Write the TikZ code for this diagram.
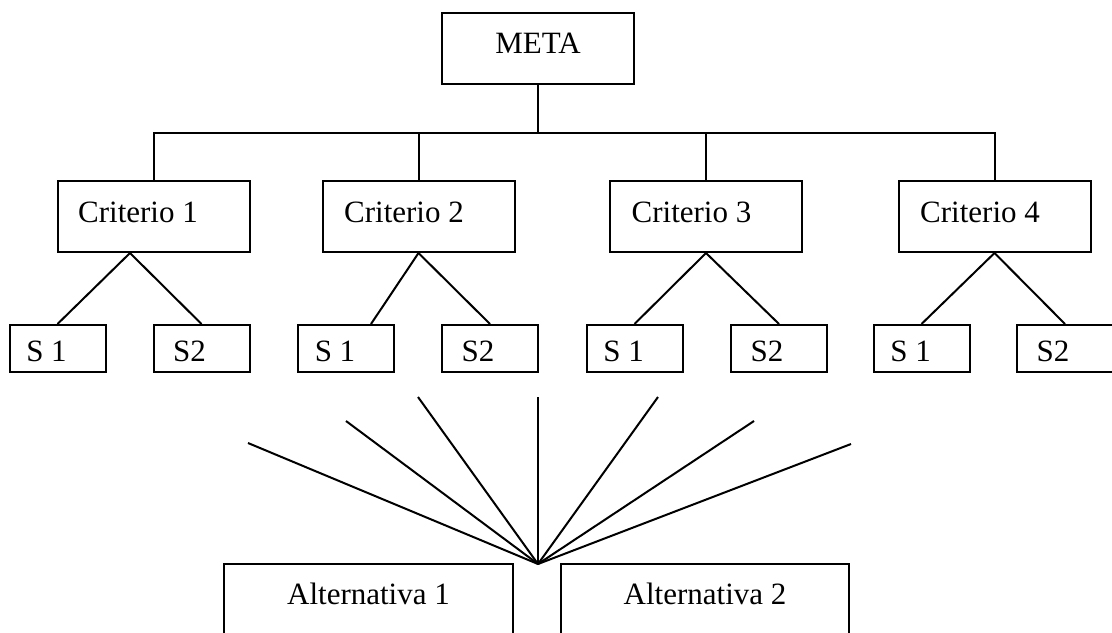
\documentclass[tikz,border=0pt]{standalone}
\usepackage{fontspec}
\setmainfont{Liberation Serif}
\usepackage{tikz}
\usetikzlibrary{positioning}
\tikzset{caja/.style={draw,line width=1pt,inner sep=0pt,minimum width=96pt,minimum height=35.5pt},
  hoja/.style={caja,minimum width=48pt,minimum height=23.5pt},
  alt/.style={caja,minimum width=144.5pt,minimum height=50pt},
  texto/.style={inner sep=0pt,font=\fontsize{15.5}{18}\selectfont},
  linea/.style={line width=1pt,draw=black}}

\begin{document}
\begin{tikzpicture}[x=0.5pt,y=-0.5pt]
\useasboundingbox (0,0) rectangle (1112,632);
% meta y criterios
\node[caja] (meta) at (538,48.5) {};
\node[texto] (metat) at (538,43) {META};
\node[caja] (c1) at (154,216.5) {};
\node[caja] (c2) at (418.5,216.5) {};
\node[caja] (c3) at (706,216.5) {};
\node[caja] (c4) at (994.5,216.5) {};
\node[texto] (c1t) at (138,212.5) {Criterio 1};
\node[texto] (c2t) at (404,212.5) {Criterio 2};
\node[texto] (c3t) at (691.5,212.5) {Criterio 3};
\node[texto] (c4t) at (980,212.5) {Criterio 4};
% subcriterios
\node[hoja] (s11) at (57.5,348.5) {};
\node[hoja] (s12) at (201.5,348.5) {};
\node[hoja] (s21) at (346,348.5) {};
\node[hoja] (s22) at (490,348.5) {};
\node[hoja] (s31) at (634.5,348.5) {};
\node[hoja] (s32) at (779,348.5) {};
\node[hoja] (s41) at (921.5,348.5) {};
\node[hoja] (s42) at (1065,348.5) {};
\foreach \s/\x in {s11/46.5,s21/335,s31/623.5,s41/910.5}
  \node[texto] (\s t) at (\x,351.5) {S 1};
\foreach \s/\x in {s12/189.5,s22/478,s32/767,s42/1053}
  \node[texto] (\s t) at (\x,351.5) {S2};
% alternativas
\node[alt] (a1) at (368.5,614) {};
\node[alt,minimum width=144pt] (a2) at (705,614) {};
\node[texto] (a1t) at (368.5,594) {Alternativa 1};
\node[texto] (a2t) at (705,594) {Alternativa 2};
\coordinate (bus) at (538,133);
\coordinate (nudo) at (538,564);
\draw[linea] (meta) -- (bus);
\draw[linea] (c1.north) |- (bus) -| (c4.north);
\draw[linea] (c2.north) -- (c2.north |- bus);
\draw[linea] (c3.north) -- (c3.north |- bus);
\draw[linea] ([xshift=-12pt]c1.south) -- (s11.north);
\draw[linea] ([xshift=-12pt]c1.south) -- (s12.north);
\draw[linea] (c2.south) -- ([xshift=12.5pt]s21.north);
\draw[linea] (c2.south) -- (s22.north);
\draw[linea] (c3.south) -- (s31.north);
\draw[linea] (c3.south) -- (s32.north);
\draw[linea] (c4.south) -- (s41.north);
\draw[linea] (c4.south) -- (s42.north);
% abanico
\foreach \i/\x/\y in {1/248/443,2/346/421,3/418/397,4/538/397,5/658/397,6/754/421,7/851/444}{
  \coordinate (f\i) at (\x,\y);
  \draw[linea] (nudo) -- (f\i);
}
\end{tikzpicture}
\end{document}
